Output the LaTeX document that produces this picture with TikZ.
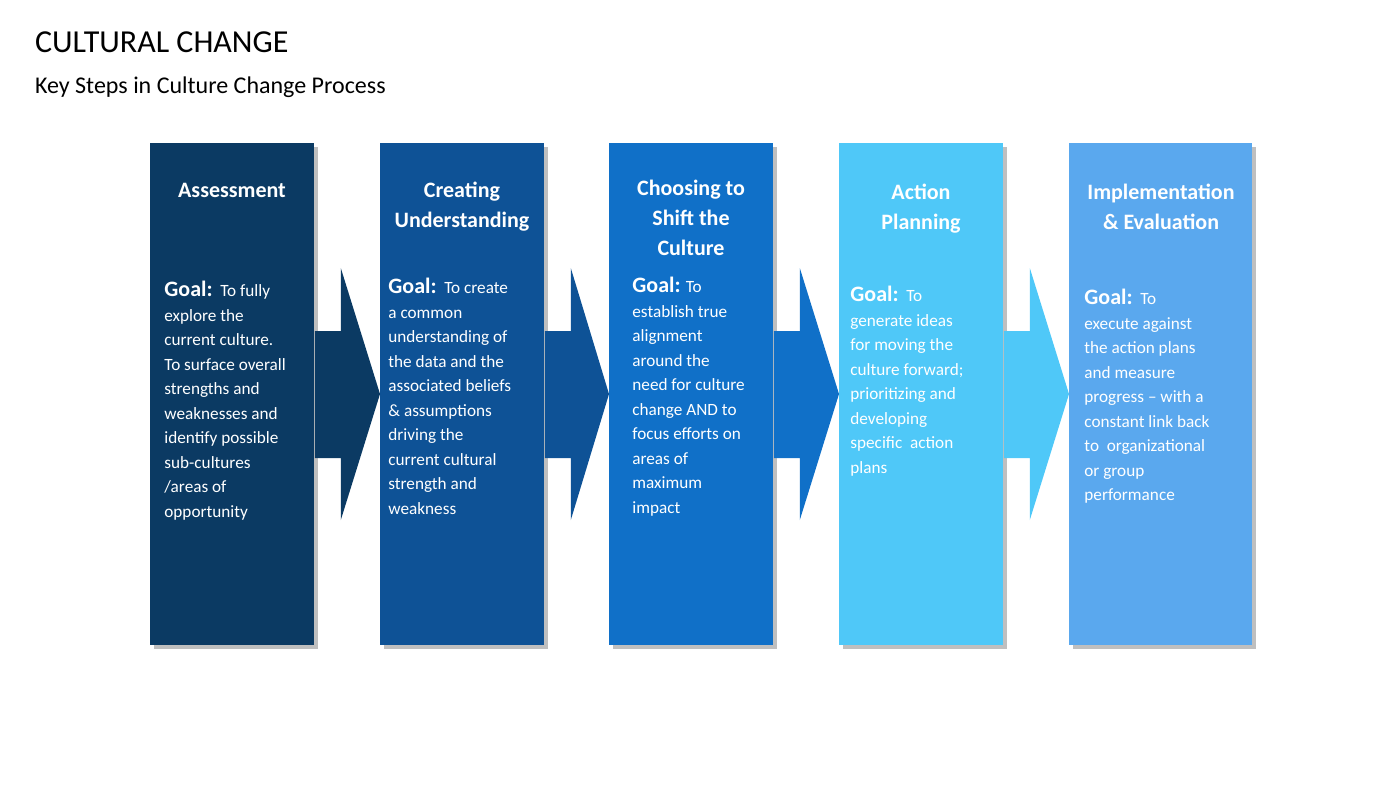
\documentclass[tikz,border=0pt]{standalone}
\usepackage{fontspec}
\setmainfont{Carlito}
\usetikzlibrary{positioning,calc}
\definecolor{cA}{HTML}{0B3A63}
\definecolor{cB}{HTML}{0E5296}
\definecolor{cC}{HTML}{1070C8}
\definecolor{cD}{HTML}{4FC8F8}
\definecolor{cE}{HTML}{5AA8EE}
\newcommand{\goallabel}{\bfseries\fontsize{11}{12}\selectfont}
\begin{document}
\begin{tikzpicture}[x=0.5pt, y=-0.5pt,
    col/.style={rectangle, minimum width=82pt, minimum height=251pt, anchor=north west, inner sep=0pt, fill=#1},
    title/.style={font=\bfseries\fontsize{11}{15}\selectfont, text=white, align=center, anchor=north},
    body/.style={font=\fontsize{8.6}{12.25}\selectfont, text=white, align=left, anchor=north west, inner sep=0pt}
]
\useasboundingbox (0,0) rectangle (1400,788);

% Heading
\node[anchor=west, font=\fontsize{16}{18}\selectfont] (head) at (28,42) {CULTURAL CHANGE};
\node[anchor=west, font=\fontsize{12}{14}\selectfont] (sub) at (28,87) {Key Steps in Culture Change Process};

% Columns
\foreach \n/\x/\c in {a/150/cA, b/380/cB, c/609/cC, d/839/cD} {
    \fill[black!25] (\x+4,147) rectangle ++(164,502);
    \node[col=\c] (\n) at (\x,143) {};
}
\fill[black!25] (1073,147) rectangle ++(183,502);
\node[col=cE, minimum width=91.5pt] (e) at (1069,143) {};

% Arrows between columns
\foreach \s/\t/\c in {a/b/cA, b/c/cB, c/d/cC, d/e/cD} {
    \fill[\c] (\s.east |- 0,331) -- ($(\s.east |- 0,331)+(26,0)$) -- ($(\s.east |- 0,268)+(26,0)$)
        -- (\t.west |- 0,394) -- ($(\s.east |- 0,520)+(26,0)$) -- ($(\s.east |- 0,458)+(26,0)$)
        -- (\s.east |- 0,458) -- cycle;
}

% Titles
\node[title] (ta) at (232,176) {Assessment};
\node[title] (tb) at (462,175) {Creating\\Understanding};
\node[title] (tc) at (691,173) {Choosing to\\Shift the\\Culture};
\node[title] (td) at (921,177) {Action\\Planning};
\node[title] (te) at (1161,177) {Implementation\\\& Evaluation};

% Goals
\node[body] (ga) at (164,281) {{\goallabel Goal:}\ \ To fully\\explore the\\current culture.\\To surface overall\\strengths and\\weaknesses and\\identify possible\\sub-cultures\\/areas of\\opportunity};
\node[body] (gb) at (388,278) {{\goallabel Goal:}\ \ To create\\a common\\understanding of\\the data and the\\associated beliefs\\\& assumptions\\driving the\\current cultural\\strength and\\weakness};
\node[body] (gc) at (632,277) {{\goallabel Goal:} To\\establish true\\alignment\\around the\\need for culture\\change AND to\\focus efforts on\\areas of\\maximum\\impact};
\node[body] (gd) at (850,286) {{\goallabel Goal:}\ \ To\\generate ideas\\for moving the\\culture forward;\\prioritizing and\\developing\\specific\ \ action\\plans};
\node[body] (ge) at (1084,289) {{\goallabel Goal:}\ \ To\\execute against\\the action plans\\and measure\\progress -- with a\\constant link back\\to\ \ organizational\\or group\\performance};
\end{tikzpicture}
\end{document}
